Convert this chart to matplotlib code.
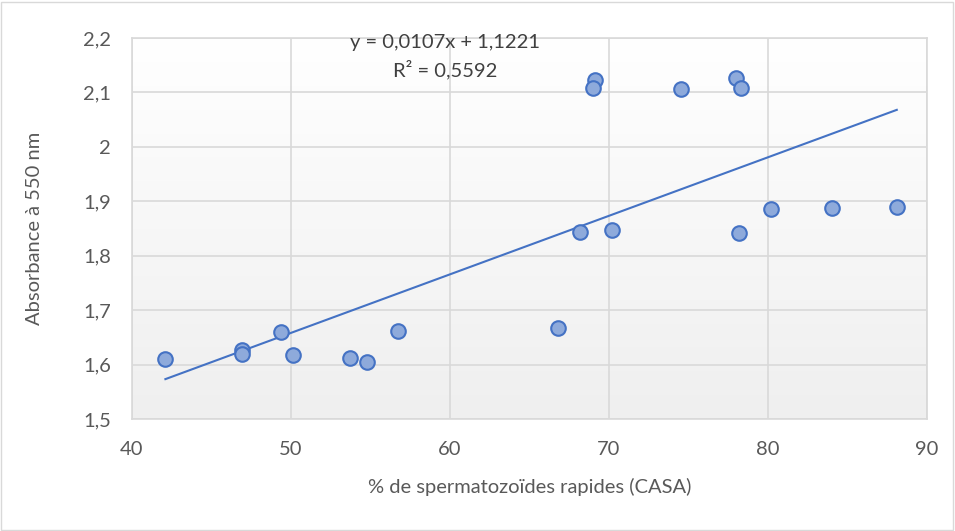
import numpy as np
import matplotlib.pyplot as plt
from matplotlib.ticker import FuncFormatter, MultipleLocator
from matplotlib.patches import Rectangle
from matplotlib.colors import LinearSegmentedColormap

# données
casa_rapides = [42.1, 46.9, 46.9, 49.4, 50.1, 53.7, 54.8, 56.7, 66.8, 68.2,
                70.2, 69.1, 69.0, 74.5, 78.0, 78.3, 78.2, 80.2, 84.0, 88.1]
absorbance = [1.610, 1.627, 1.619, 1.659, 1.617, 1.612, 1.605, 1.662, 1.667, 1.844,
              1.848, 2.123, 2.109, 2.107, 2.126, 2.108, 1.841, 1.886, 1.887, 1.890]
eq_label = "y = 0,0107x + 1,1221"
r2_label = "R² = 0,5592"

plt.rcParams['font.family'] = ['Lato', 'DejaVu Sans']
fs = 14.5

fig = plt.figure(figsize=(9.55, 5.31), dpi=100)
ax = fig.add_axes([132/955, 1 - 419/531, (927 - 132)/955, (419 - 38)/531])

# fond en dégradé (blanc en haut -> gris très clair en bas)
fond = LinearSegmentedColormap.from_list('fond', ['#efefef', '#ffffff'])
grad = np.linspace(0, 1, 256).reshape(-1, 1)
ax.imshow(grad, extent=[40, 90, 1.5, 2.2], aspect='auto', cmap=fond,
          origin='lower', zorder=0)

ax.set_xlim(40, 90)
ax.set_ylim(1.5, 2.2)
ax.xaxis.set_major_locator(MultipleLocator(10))
ax.yaxis.set_major_locator(MultipleLocator(0.1))
virgule = FuncFormatter(lambda v, p: ('%g' % round(v, 2)).replace('.', ','))
ax.xaxis.set_major_formatter(virgule)
ax.yaxis.set_major_formatter(virgule)
ax.grid(True, color='#d9d9d9', linewidth=1.2, zorder=1)
ax.set_axisbelow(True)
for s in ax.spines.values():
    s.set_color('#d9d9d9')
    s.set_linewidth(1.2)
ax.tick_params(length=0, labelsize=fs, colors='#595959')
ax.tick_params(axis='x', pad=16)
ax.tick_params(axis='y', pad=15)

# droite de tendance
x = np.array(casa_rapides)
y = np.array(absorbance)
a, b = np.polyfit(x, y, 1)
xl = np.array([x.min(), x.max()])
ax.plot(xl, a*xl + b, color='#4472c4', linewidth=1.5, zorder=2)

ax.scatter(x, y, s=110, color='#8eaadb', edgecolors='#4472c4', linewidths=1.5, zorder=3)

ax.text(0.394, 0.9895, eq_label, transform=ax.transAxes, ha='center', va='center',
        fontsize=fs, color='#404040')
ax.text(0.394, 0.916, r2_label, transform=ax.transAxes, ha='center', va='center',
        fontsize=fs, color='#404040')

ax.set_xlabel("% de spermatozoïdes rapides (CASA)", fontsize=fs, color='#595959')
ax.set_ylabel("Absorbance à 550 nm", fontsize=fs, color='#595959')
ax.xaxis.set_label_coords(0.5, -0.155)
ax.yaxis.set_label_coords(-0.112, 0.5)

fig.patches.append(Rectangle((1/955, 1/531), 952/955, 528/531, transform=fig.transFigure,
                             fill=False, edgecolor='#d9d9d9', linewidth=1))

fig.savefig("out.png", dpi=100)
